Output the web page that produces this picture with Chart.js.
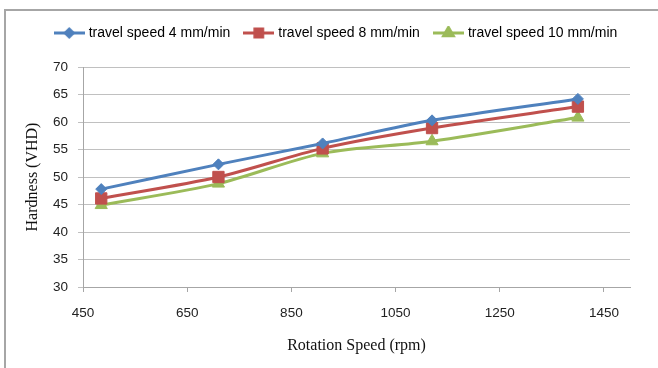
<!DOCTYPE html>
<html>
<head>
<meta charset="utf-8">
<script src="https://cdn.jsdelivr.net/npm/chart.js@4.4.1/dist/chart.umd.min.js"></script>
<style>
  html, body { margin: 0; padding: 0; background: #fff; }
  #wrap { position: relative; width: 658px; height: 368px; overflow: hidden; }
  #frame { position: absolute; left: 4px; top: 9px; width: 700px; height: 400px;
           border-top: 2px solid #a6a6a6; border-left: 2px solid #a6a6a6; }
  #chart { position: absolute; left: 0; top: 0; }
</style>
</head>
<body>
<div id="wrap">
  <div id="frame"></div>
  <canvas id="chart" width="658" height="368"></canvas>
</div>
<script>
// valores
const rotationSpeeds = [485, 710, 910, 1120, 1400];
const speed4 = [47.8, 52.3, 56.1, 60.3, 64.2];
const speed8 = [46.1, 50.0, 55.2, 58.9, 62.8];
const speed10 = [44.9, 48.8, 54.3, 56.5, 60.8];
const xTicks = [450, 650, 850, 1050, 1250, 1450];
const seriesNames = ['travel speed 4 mm/min', 'travel speed 8 mm/min', 'travel speed 10 mm/min'];

const blue = '#4f81bd';
const red = '#c0504d';
const green = '#9bbb59';

// icono de la leyenda: linea con marcador
function legendIcon(color, style, radius) {
  const c = document.createElement('canvas');
  c.width = 31;
  c.height = 14;
  const ctx = c.getContext('2d');
  ctx.strokeStyle = color;
  ctx.lineWidth = 3;
  ctx.beginPath();
  ctx.moveTo(0, 7);
  ctx.lineTo(31, 7);
  ctx.stroke();
  ctx.fillStyle = color;
  ctx.strokeStyle = color;
  Chart.helpers.drawPoint(ctx, { pointStyle: style, radius: radius, borderWidth: 1, rotation: 0 }, 15.5, 7);
  ctx.fill();
  return c;
}

function makeSet(label, data, color, style, radius, legendRadius) {
  return {
    label: label,
    data: rotationSpeeds.map((x, i) => ({ x: x, y: data[i] })),
    borderColor: color,
    backgroundColor: color,
    borderWidth: 3,
    pointStyle: style,
    pointRadius: radius,
    pointHoverRadius: radius,
    pointBorderWidth: 1,
    tension: 0.3,
    icon: legendIcon(color, style, legendRadius)
  };
}

const datasets = [
  makeSet(seriesNames[0], speed4, blue, 'rectRot', 5.5, 4),
  makeSet(seriesNames[1], speed8, red, 'rect', 8, 5.5),
  makeSet(seriesNames[2], speed10, green, 'triangle', 7, 5.5)
];

// altura fija para la leyenda
const legendHeight = {
  id: 'legendHeight',
  beforeLayout(chart) {
    const lg = chart.legend;
    if (lg && !lg._fixed) {
      const fit = lg.fit;
      lg.fit = function () { fit.call(this); this.height = 57; };
      lg._fixed = true;
    }
  }
};

const legendFont = { family: 'Liberation Sans', size: 14 };
const tickFont = { family: 'Liberation Sans', size: 13.5 };
const titleFont = { family: 'Liberation Serif', size: 16 };

new Chart(document.getElementById('chart'), {
  type: 'line',
  data: { datasets: datasets },
  options: {
    responsive: false,
    animation: false,
    layout: { padding: { top: 10, left: 16, right: 0, bottom: 0 } },
    plugins: {
      legend: {
        position: 'top',
        labels: {
          usePointStyle: true,
          pointStyleWidth: 25,
          padding: 16,
          color: '#222',
          font: legendFont,
          generateLabels: chart => chart.data.datasets.map((ds, i) => ({
            text: ds.label,
            pointStyle: ds.icon,
            fillStyle: ds.borderColor,
            strokeStyle: ds.borderColor,
            lineWidth: 0,
            hidden: !chart.isDatasetVisible(i),
            datasetIndex: i
          }))
        }
      },
      tooltip: { enabled: false }
    },
    scales: {
      x: {
        type: 'linear',
        min: 450,
        max: 1500,
        afterBuildTicks: s => { s.ticks = xTicks.map(v => ({ value: v })); },
        afterFit: s => { s.height = 81; },
        grid: { drawOnChartArea: false, tickLength: 5, color: '#a6a6a6' },
        border: { color: '#a6a6a6', width: 1 },
        ticks: { padding: 13, color: '#222', font: tickFont, maxRotation: 0, callback: v => String(v) },
        title: { display: true, text: 'Rotation Speed (rpm)', color: '#111', font: titleFont, padding: { top: 0, bottom: 13 } }
      },
      y: {
        min: 30,
        max: 70,
        afterFit: s => { s.width = 67; },
        grid: { tickLength: 5, color: '#c0c0c0' },
        border: { color: '#a6a6a6', width: 1 },
        ticks: { stepSize: 5, padding: 10, color: '#222', font: tickFont },
        title: { display: true, text: 'Hardness (VHD)', color: '#111', font: titleFont, padding: { top: 7.4, bottom: 0 } }
      },
      yR: {
        position: 'right',
        display: true,
        grid: { display: false },
        border: { display: false },
        ticks: { display: false },
        afterFit: s => { s.width = 28; }
      }
    }
  },
  plugins: [legendHeight]
});
</script>
</body>
</html>
